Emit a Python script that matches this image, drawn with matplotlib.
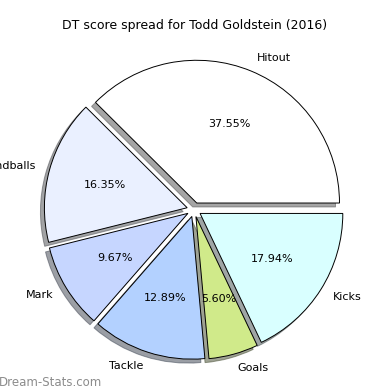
import matplotlib
matplotlib.use('Agg')
import matplotlib.pyplot as plt

labels = ['Hitout', 'Handballs', 'Mark', 'Tackle', 'Goals', 'Kicks']
values = [37.55, 16.35, 9.67, 12.89, 5.60, 17.94]
colors = ['#ffffff', '#eaf0ff', '#c6d6ff', '#b3d1ff', '#d0ea8a', '#d9ffff']

fig = plt.figure(figsize=(3.9, 3.9), dpi=100)
ax = fig.add_axes([0.04, 0.005, 0.915, 0.915])

ax.pie(values, labels=labels, colors=colors, explode=[0.05] * len(values),
       autopct='%.2f%%', shadow=True, startangle=0,
       wedgeprops={'edgecolor': 'black', 'linewidth': 0.7},
       textprops={'fontsize': 8})
ax.set_aspect('equal')
fig.text(0.5, 0.925, 'DT score spread for Todd Goldstein (2016)', ha='center', fontsize=9)
fig.text(-0.003, 0.01, 'Dream-Stats.com', color='#8c8c8c', fontsize=8.5)

plt.savefig('out.png')
